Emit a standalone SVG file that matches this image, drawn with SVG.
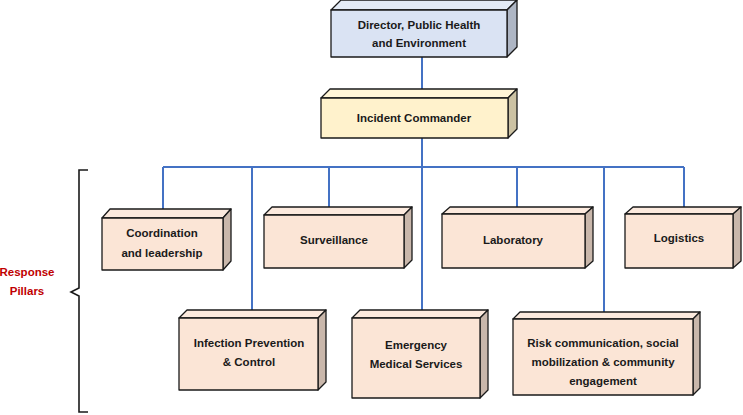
<svg xmlns="http://www.w3.org/2000/svg" width="743" height="415" viewBox="0 0 743 415">
<style>
.front{stroke:#1a1a1a;stroke-width:1.3;stroke-linejoin:round}
.blue .front{fill:#DAE3F3}.blue .top{fill:#E4EBF6}.blue .side{fill:#AEB6C4}
.yel .front{fill:#FFF2CC}.yel .top{fill:#FFF5D7}.yel .side{fill:#CCC2A3}
.pch .front{fill:#FBE5D6}.pch .top{fill:#FCEADE}.pch .side{fill:#C9B7AB}
.top,.side{stroke:#1a1a1a;stroke-width:1.3;stroke-linejoin:round}
text{font-family:"Liberation Sans",Arial,sans-serif;font-weight:bold;font-size:11.5px;fill:#1a1a1a;text-anchor:middle}
.conn{stroke:#4472C4;stroke-width:2;fill:none}
.label{fill:#C00000}
</style>
<g id="connectors">
<path class="conn" d="M422,56 V312"/>
<path class="conn" d="M163,167 H684"/>
<path class="conn" d="M163,167 V210"/>
<path class="conn" d="M252,167 V312"/>
<path class="conn" d="M329,167 V210"/>
<path class="conn" d="M517,167 V210"/>
<path class="conn" d="M604,167 V314"/>
<path class="conn" d="M684,167 V210"/>
</g>
<g id="director" class="blue">
<polygon class="top" points="331,10 341,0 517,0 507,10"/>
<polygon class="side" points="507,10 517,0 517,47 507,57"/>
<rect class="front" x="331" y="10" width="176" height="47"/>
<text x="419" y="29">Director, Public Health</text>
<text x="419" y="47">and Environment</text>
</g>
<g id="incident-commander" class="yel">
<polygon class="top" points="321,98 330,89 517,89 508,98"/>
<polygon class="side" points="508,98 517,89 517,129 508,138"/>
<rect class="front" x="321" y="98" width="187" height="40"/>
<text x="414" y="122">Incident Commander</text>
</g>
<g id="coordination" class="pch">
<polygon class="top" points="102,218 110,209 231,209 223,218"/>
<polygon class="side" points="223,218 231,209 231,261 223,270"/>
<rect class="front" x="102" y="218" width="121" height="52"/>
<text x="162" y="237">Coordination</text>
<text x="162" y="257">and leadership</text>
</g>
<g id="surveillance" class="pch">
<polygon class="top" points="264,215 272,207 412,207 404,215"/>
<polygon class="side" points="404,215 412,207 412,260 404,268"/>
<rect class="front" x="264" y="215" width="140" height="53"/>
<text x="334" y="244">Surveillance</text>
</g>
<g id="laboratory" class="pch">
<polygon class="top" points="442,214 450,207 593,207 585,214"/>
<polygon class="side" points="585,214 593,207 593,261 585,268"/>
<rect class="front" x="442" y="214" width="143" height="54"/>
<text x="513" y="244">Laboratory</text>
</g>
<g id="logistics" class="pch">
<polygon class="top" points="625,214 633,207 741,207 733,214"/>
<polygon class="side" points="733,214 741,207 741,261 733,268"/>
<rect class="front" x="625" y="214" width="108" height="54"/>
<text x="679" y="242">Logistics</text>
</g>
<g id="infection-prevention" class="pch">
<polygon class="top" points="179,318 187,310 326,310 318,318"/>
<polygon class="side" points="318,318 326,310 326,382 318,390"/>
<rect class="front" x="179" y="318" width="139" height="72"/>
<text x="249" y="347">Infection Prevention</text>
<text x="249" y="366">&amp; Control</text>
</g>
<g id="emergency-medical" class="pch">
<polygon class="top" points="352,318 360,310 488,310 480,318"/>
<polygon class="side" points="480,318 488,310 488,390 480,398"/>
<rect class="front" x="352" y="318" width="128" height="80"/>
<text x="416" y="349">Emergency</text>
<text x="416" y="368">Medical Services</text>
</g>
<g id="risk-communication" class="pch">
<polygon class="top" points="513,319 520,312 700,312 693,319"/>
<polygon class="side" points="693,319 700,312 700,388 693,395"/>
<rect class="front" x="513" y="319" width="180" height="76"/>
<text x="603" y="347">Risk communication, social</text>
<text x="603" y="366">mobilization &amp; community</text>
<text x="603" y="385">engagement</text>
</g>
<g id="response-pillars">
<path d="M88,170 H79 V288 L71,292 L79,296 V412 H88" fill="none" stroke="#1a1a1a" stroke-width="1.6"/>
<text class="label" x="27" y="276">Response</text>
<text class="label" x="27" y="295">Pillars</text>
</g>
</svg>
